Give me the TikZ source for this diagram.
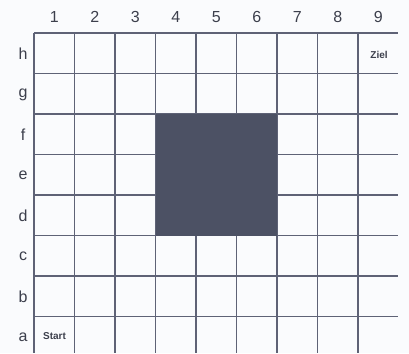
\documentclass[tikz,border=0pt]{standalone}
\usepackage{fontspec}
\setmainfont{Liberation Sans}
\definecolor{gridc}{HTML}{5E6276}
\definecolor{blockc}{HTML}{4C5164}
\definecolor{txtc}{HTML}{3C3F4C}
\definecolor{bgc}{HTML}{FAFBFD}
\begin{document}
\begin{tikzpicture}[x=1pt,y=-1pt,
  gridline/.style={draw=gridc,line width=1.1pt},
  axislabel/.style={text=txtc,font=\fontsize{16}{18}\selectfont,inner sep=0pt},
  celltext/.style={text=txtc,font=\bfseries\fontsize{10}{12}\selectfont,inner sep=0pt}]
\fill[bgc] (0,0) rectangle (409,353);
\useasboundingbox (0,0) rectangle (409,353);
% vertical lines
\foreach \i in {0,...,8} \draw[gridline] ({34+40.5*\i},33) -- ({34+40.5*\i},353);
% horizontal lines
\foreach \j in {0,...,7} \draw[gridline] (34,{33+40.5*\j}) -- (398,{33+40.5*\j});
% dark block
\fill[blockc] (155.5,114) rectangle (277,235.5);
% column labels
\foreach \i in {1,...,9} \node[axislabel] (col\i) at ({34+40.5*\i-20.25},17) {\i};
% row labels
\foreach \r [count=\j from 0] in {h,g,f,e,d,c,b,a}
  \node[axislabel] (row\r) at (23,{33+40.5*\j+21}) {\r};
\node[celltext] (start) at (54.5,336) {Start};
\node[celltext] (ziel) at (379,55) {Ziel};
\end{tikzpicture}
\end{document}
